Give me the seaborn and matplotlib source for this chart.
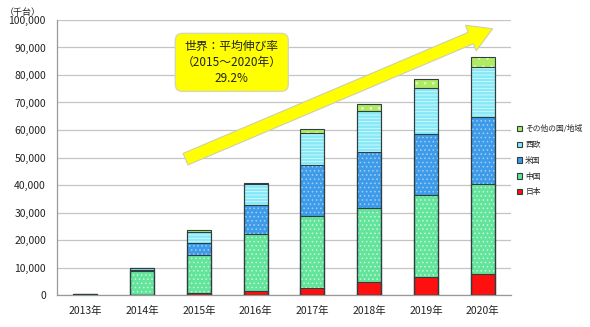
import numpy as np
import pandas as pd
import matplotlib
matplotlib.use("Agg")
import matplotlib.pyplot as plt
from matplotlib.patches import FancyArrowPatch, Patch
import seaborn as sns

# Shipments by region (thousand units)
years = ["2013年", "2014年", "2015年", "2016年", "2017年", "2018年", "2019年", "2020年"]
japan = [50, 100, 700, 1500, 2500, 4800, 6500, 7500]
china = [150, 8500, 13700, 20600, 26200, 26700, 29900, 32700]
usa = [50, 600, 4400, 10600, 18500, 20400, 22000, 24600]
europe = [50, 700, 4200, 7500, 11600, 15000, 17000, 18000]
other = [0, 0, 600, 600, 1400, 2700, 3000, 3600]

series_names = ["日本", "中国", "米国", "西欧", "その他の国/地域"]
series_colors = ["#ff1010", "#62e49a", "#3d9be9", "#86e9f7", "#aeea62"]
series_hatch = [None, "....", "....", "-----", ". ."]
hatch_colors = ["#ff1010", "#c8f5dc", "#9fd0f7", "#d8f8fd", "#ebfbd4"]

y_ticks = list(range(0, 100001, 10000))
unit_label = "（千台）"
note_text = "世界：平均伸び率\n（2015～2020年）\n29.2%"

sns.set_theme(style="white")
plt.rcParams["font.family"] = ["Noto Sans CJK JP", "DejaVu Sans"]
plt.rcParams["hatch.linewidth"] = 0.6

df = pd.DataFrame({"year": years, "日本": japan, "中国": china, "米国": usa,
                   "西欧": europe, "その他の国/地域": other})

fig = plt.figure(figsize=(5.9, 3.27), dpi=100)
ax = fig.add_axes([57 / 590, 1 - 295 / 327, 454 / 590, 275 / 327])

# cumulative stacks, drawn from the top series down so each layer sits over the next
cum = df[series_names].cumsum(axis=1)
bar_w = 0.42
for i in reversed(range(len(series_names))):
    name = series_names[i]
    sns.barplot(x=df["year"], y=cum[name], ax=ax, color=series_colors[i],
                width=bar_w, saturation=1, edgecolor=hatch_colors[i],
                linewidth=0, hatch=series_hatch[i], zorder=2)
    sns.barplot(x=df["year"], y=cum[name], ax=ax, fill=False,
                width=bar_w, edgecolor="#2f3f3f", linewidth=0.8, zorder=3)

ax.set_xlim(-0.5, len(years) - 0.5)
ax.set_ylim(0, 100000)
ax.set_yticks(y_ticks)
ax.set_yticklabels([f"{v:,}" for v in y_ticks], fontsize=7.5, color="#222222")
ax.set_xticks(range(len(years)))
ax.set_xticklabels(years, fontsize=7.5, color="#222222")
ax.set_xticks(np.arange(-0.5, len(years) + 0.5, 1), minor=True)
ax.tick_params(axis="x", which="major", length=0, pad=8)
ax.tick_params(axis="x", which="minor", length=4, color="#999999", width=0.8, direction="out")
ax.tick_params(axis="y", length=4, color="#999999", width=0.8, direction="out", pad=4)
ax.set_xlabel("")
ax.set_ylabel("")
ax.yaxis.grid(True, color="#c4c4c4", linewidth=0.9, zorder=0)
ax.set_axisbelow(True)
for s in ["top", "right"]:
    ax.spines[s].set_visible(False)
for s in ["left", "bottom"]:
    ax.spines[s].set_color("#999999")
    ax.spines[s].set_linewidth(0.9)

fig.text(5 / 590, 1 - 12 / 327, unit_label, fontsize=6.5, ha="left", va="center", color="#222222")

# growth arrow
arrow = FancyArrowPatch((0.2775, 0.49), (0.965, 0.972), transform=ax.transAxes,
                        arrowstyle="simple,head_width=2.0,head_length=1.7,tail_width=0.9",
                        mutation_scale=10, facecolor="#ffff00", edgecolor="#cfcfa8",
                        linewidth=0.8, zorder=5, clip_on=False)
ax.add_patch(arrow)

ax.text(0.385, 0.846, note_text, transform=ax.transAxes, ha="center", va="center",
        fontsize=8.5, linespacing=1.3, color="#222222", zorder=6,
        bbox=dict(boxstyle="round,pad=0.55,rounding_size=0.6", facecolor="#ffff00",
                  edgecolor="#d8d8b0", linewidth=1))

handles = [Patch(facecolor=series_colors[i], edgecolor="#2f3f3f", linewidth=0.8)
           for i in reversed(range(len(series_names)))]
labels = list(reversed(series_names))
leg = fig.legend(handles, labels, loc="upper left", bbox_to_anchor=(517 / 590, 1 - 125 / 327),
                 frameon=False, fontsize=5.6, handlelength=0.7, handleheight=0.7,
                 handletextpad=0.35, labelspacing=1.0, borderpad=0, borderaxespad=0)

fig.savefig("out.png", dpi=100)
